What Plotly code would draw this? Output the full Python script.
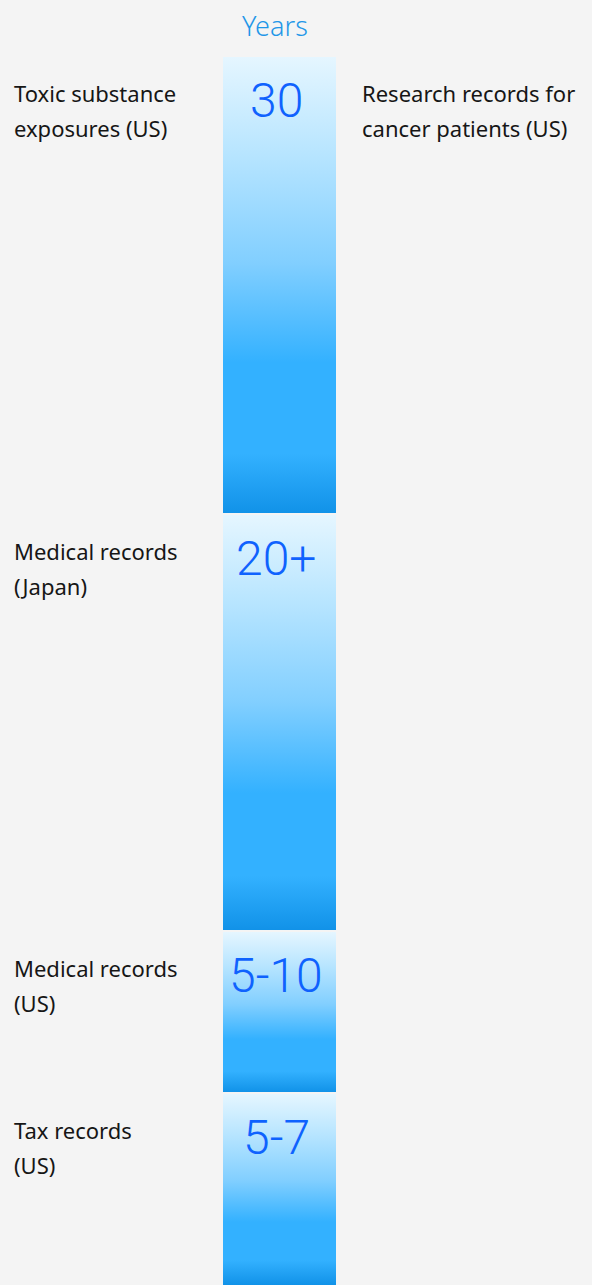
import plotly.graph_objects as go

# ---- data ----
value_labels = ["30", "20+", "5-10", "5-7"]
left_labels = [["Toxic substance", "exposures (US)"], ["Medical records", "(Japan)"],
               ["Medical records", "(US)"], ["Tax records", "(US)"]]
right_labels = [["Research records for", "cancer patients (US)"], [], [], []]
segment_lengths = [456, 415, 160, 191]   # visual length of each block
title_text = "Years"

# ---- layout constants ----
W, H = 592, 1285
TOP = 57
GAP = 2
BAR_X0, BAR_X1 = 223, 336
BG = "#f4f4f4"
LABEL_FONT = dict(family="Noto Sans, sans-serif", size=22, color="#161616")
LINE_H = 35

colorscale = [
    [0.0, "#e5f6ff"],
    [0.2, "#bae6ff"],
    [0.45, "#82cfff"],
    [0.67, "#33b1ff"],
    [0.87, "#33b1ff"],
    [1.0, "#1192e8"],
]

fig = go.Figure()
annotations = []
y = TOP
for val, ll, rl, length in zip(value_labels, left_labels, right_labels, segment_lengths):
    y0, y1 = y, y + length
    fig.add_trace(go.Scatter(
        x=[BAR_X0, BAR_X1, BAR_X1, BAR_X0, BAR_X0],
        y=[y0, y0, y1, y1, y0],
        mode="lines", line=dict(width=0),
        fill="toself",
        fillgradient=dict(type="vertical", colorscale=colorscale, start=y0, stop=y1),
        hoverinfo="skip", showlegend=False,
    ))
    annotations.append(dict(
        x=276, y=y0 + 43, text=val, showarrow=False,
        xanchor="center", yanchor="middle",
        font=dict(family="Roboto, Noto Sans, sans-serif", size=48, color="#0f62fe", weight=300),
    ))
    for i, line in enumerate(ll):
        annotations.append(dict(
            x=12, y=y0 + 36 + i * LINE_H, text=line, showarrow=False,
            xanchor="left", yanchor="middle", font=LABEL_FONT,
        ))
    for i, line in enumerate(rl):
        annotations.append(dict(
            x=360, y=y0 + 36 + i * LINE_H, text=line, showarrow=False,
            xanchor="left", yanchor="middle", font=LABEL_FONT,
        ))
    y = y1 + GAP

annotations.append(dict(
    x=275, y=25, text=title_text, showarrow=False,
    xanchor="center", yanchor="middle",
    font=dict(family="Noto Sans, sans-serif", size=27, color="#1f97e8", weight=300),
))

fig.update_layout(
    width=W, height=H,
    margin=dict(l=0, r=0, t=0, b=0),
    paper_bgcolor=BG, plot_bgcolor=BG,
    xaxis=dict(range=[0, W], visible=False, fixedrange=True),
    yaxis=dict(range=[H, 0], visible=False, fixedrange=True),
    annotations=annotations,
)

fig.write_html(
    "out.html",
    config={"displayModeBar": False},
    post_script="document.body.style.margin='0';document.body.style.background='#f4f4f4';",
)
